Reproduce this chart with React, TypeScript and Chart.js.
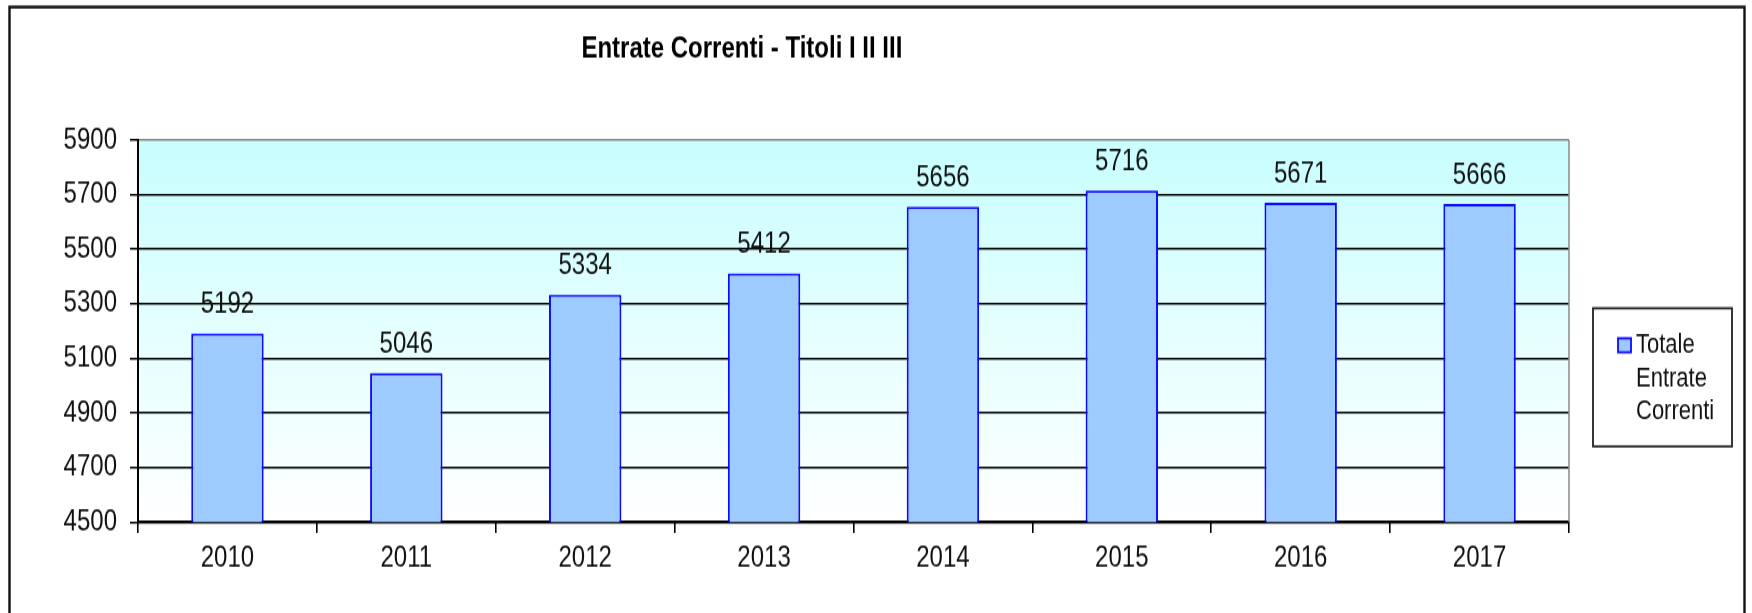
import React, { useEffect, useRef } from 'react';
import { Chart, registerables } from 'chart.js';

Chart.register(...registerables);

const categories = ['2010', '2011', '2012', '2013', '2014', '2015', '2016', '2017'];
const values = [5192, 5046, 5334, 5412, 5656, 5716, 5671, 5666];
const legendLines = ['Totale', 'Entrate', 'Correnti'];
const titleText = 'Entrate Correnti - Titoli I II III';
const yMin = 4500;
const yMax = 5900;
const yStep = 200;

// The reference uses vertically elongated (narrow) lettering; we render the
// chart at a reduced height and stretch it vertically to the full 613 px.
const W = 1752;
const H = 613;
const K = 1.25;
const HC = Math.round(H / K);

const FONT = '"Liberation Sans", Arial, sans-serif';
const BAR_FILL = '#9ecbff';
const BAR_BORDER = '#0a0aff';

const framePlugin = {
  id: 'frameBg',
  beforeDraw(chart: any) {
    const { ctx, chartArea: a, width, height } = chart;
    ctx.save();
    ctx.fillStyle = '#ffffff';
    ctx.fillRect(0, 0, width, height);
    const g = ctx.createLinearGradient(0, a.top, 0, a.bottom);
    g.addColorStop(0, '#c8fefe');
    g.addColorStop(0.45, '#e2ffff');
    g.addColorStop(1, '#ffffff');
    ctx.fillStyle = g;
    ctx.fillRect(a.left, a.top, a.right - a.left, a.bottom - a.top);
    // outer frame
    ctx.strokeStyle = '#111111';
    ctx.lineWidth = 2.4;
    ctx.strokeRect(9.5, 5.6, width - 17, height + 20);
    ctx.restore();
  },
  afterDraw(chart: any) {
    const { ctx, chartArea: a } = chart;
    ctx.save();
    // right plot border
    ctx.strokeStyle = '#8a8a8a';
    ctx.lineWidth = 1.5;
    ctx.beginPath();
    ctx.moveTo(a.right, a.top);
    ctx.lineTo(a.right, a.bottom);
    ctx.stroke();

    // title
    ctx.fillStyle = '#000000';
    ctx.font = `bold 24px ${FONT}`;
    ctx.textAlign = 'center';
    ctx.textBaseline = 'alphabetic';
    ctx.fillText(titleText, a.left + (a.right - a.left) * 0.422, 45.6);

    // value labels
    ctx.font = `24px ${FONT}`;
    ctx.fillStyle = '#111111';
    const meta = chart.getDatasetMeta(0);
    meta.data.forEach((bar: any, i: number) => {
      ctx.fillText(String(values[i]), bar.x, bar.y - 16);
    });

    // legend
    const bx = a.right + 24;
    const by = a.top + 134.4;
    const bw = 139;
    const bh = 110.4;
    ctx.fillStyle = '#ffffff';
    ctx.fillRect(bx, by, bw, bh);
    ctx.strokeStyle = '#222222';
    ctx.lineWidth = 1.8;
    ctx.strokeRect(bx, by, bw, bh);
    ctx.fillStyle = BAR_FILL;
    ctx.fillRect(bx + 25, by + 24, 13, 11.2);
    ctx.strokeStyle = BAR_BORDER;
    ctx.lineWidth = 1.8;
    ctx.strokeRect(bx + 25, by + 24, 13, 11.2);
    ctx.fillStyle = '#111111';
    ctx.font = `22px ${FONT}`;
    ctx.textAlign = 'left';
    legendLines.forEach((t, i) => {
      ctx.fillText(t, bx + 43, by + 36 + i * 26.4);
    });
    ctx.restore();
  },
};

export default function App() {
  const ref = useRef<HTMLCanvasElement | null>(null);
  useEffect(() => {
    if (!ref.current) return;
    const chart = new Chart(ref.current, {
      type: 'bar',
      data: {
        labels: categories,
        datasets: [
          {
            label: legendLines.join(' '),
            data: values,
            backgroundColor: BAR_FILL,
            borderColor: BAR_BORDER,
            borderWidth: 2,
            borderSkipped: false,
            barPercentage: 0.405,
            categoryPercentage: 1,
          },
        ],
      },
      options: {
        animation: false,
        responsive: true,
        maintainAspectRatio: false,
        layout: { padding: { left: 0, right: 183, top: 112, bottom: 0 } },
        plugins: {
          legend: { display: false },
          title: { display: false },
          tooltip: { enabled: false },
        },
        scales: {
          x: {
            offset: true,
            grid: {
              offset: true,
              drawOnChartArea: false,
              drawTicks: true,
              tickLength: 8.8,
              color: '#000000',
              lineWidth: 1.6,
            },
            border: { color: '#000000', width: 1.7 },
            ticks: {
              color: '#111111',
              font: { family: FONT, size: 24 },
              padding: 6,
              maxRotation: 0,
            },
            afterFit: (s: any) => {
              s.height = 72.7;
            },
          },
          y: {
            min: yMin,
            max: yMax,
            grid: {
              color: (c: any) => (c.tick && c.tick.value === yMax ? '#8a8a8a' : '#000000'),
              tickColor: '#000000',
              lineWidth: 1.5,
              tickLength: 8,
            },
            border: { color: '#000000', width: 2 },
            ticks: {
              stepSize: yStep,
              color: '#111111',
              font: { family: FONT, size: 24 },
              padding: 13,
              callback: (v: any) => String(v),
            },
            afterFit: (s: any) => {
              s.width = 138;
            },
          },
        },
      },
      plugins: [framePlugin],
    });
    return () => chart.destroy();
  }, []);

  return (
    <div
      style={{
        position: 'absolute',
        left: 0,
        top: 0,
        width: W,
        height: HC,
        transform: `scaleY(${H / HC})`,
        transformOrigin: 'top left',
      }}
    >
      <canvas ref={ref} />
    </div>
  );
}
